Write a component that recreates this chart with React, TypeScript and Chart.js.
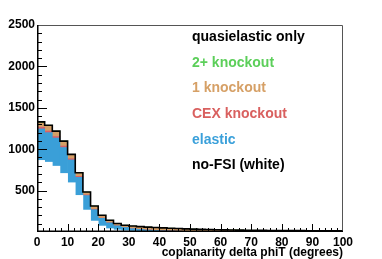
import React, { useEffect, useRef } from "react";
import { Chart, registerables } from "chart.js";

Chart.register(...registerables);

// Bin width 2.5 degrees, 40 bins from 0 to 100
const binEdges: number[] = [0, 2.5, 5, 7.5, 10, 12.5, 15, 17.5, 20, 22.5, 25, 27.5, 30, 32.5, 35, 37.5, 40, 42.5, 45, 47.5, 50, 52.5, 55, 57.5, 60, 62.5, 65, 67.5, 70, 72.5, 75, 77.5, 80, 82.5, 85, 87.5, 90, 92.5, 95, 97.5, 100];

const noFSI = [865, 843, 795, 707, 595, 442, 265, 132, 72, 40, 25, 15, 10, 7, 5, 4, 3, 2, 2, 1, 1, 1, 1, 1, 0, 0, 0, 0, 0, 0, 0, 0, 0, 0, 0, 0, 0, 0, 0, 0];
const elastic = [380, 357, 340, 313, 275, 218, 175, 138, 93, 70, 50, 40, 30, 24, 19, 15, 12, 10, 8, 6, 5, 4, 3, 3, 2, 2, 2, 1, 1, 1, 1, 1, 1, 1, 1, 1, 1, 1, 1, 1];
const cexKnockout = [20, 20, 19, 18, 15, 12, 9, 6, 4, 3, 2, 2, 2, 2, 2, 2, 2, 2, 1, 1, 1, 1, 1, 1, 1, 1, 1, 1, 1, 1, 1, 1, 1, 1, 1, 1, 1, 1, 1, 1];
const oneKnockout = [51, 56, 51, 48, 41, 35, 27, 33, 29, 26, 22, 22, 27, 29, 30, 31, 30, 29, 28, 27, 25, 23, 22, 21, 21, 20, 18, 17, 17, 16, 15, 14, 14, 13, 13, 12, 12, 12, 12, 12];
const twoKnockout = [14, 14, 13, 12, 11, 9, 7, 5, 4, 3, 3, 3, 3, 3, 3, 3, 3, 3, 3, 3, 3, 3, 3, 2, 2, 2, 2, 2, 2, 2, 2, 2, 2, 2, 2, 2, 2, 2, 1, 1];

const legendLabels = ["quasielastic only", "2+ knockout", "1 knockout", "CEX knockout", "elastic", "no-FSI (white)"];
const legendColors = ["#000000", "#5ccf5a", "#d6a066", "#d9605f", "#3aa0da", "#000000"];

const xTitle = "coplanarity delta phiT (degrees)";
const FONT = "'Liberation Sans', Arial, Helvetica, sans-serif";

export default function App() {
  const ref = useRef<HTMLCanvasElement | null>(null);

  useEffect(() => {
    const canvas = ref.current;
    if (!canvas) return;
    const nb = noFSI.length;
    const centers = binEdges.slice(0, nb).map((e, i) => (e + binEdges[i + 1]) / 2);
    const toPts = (arr: number[]) => arr.map((v, i) => ({ x: centers[i], y: v }));
    const totals = noFSI.map((_, i) => noFSI[i] + elastic[i] + cexKnockout[i] + oneKnockout[i] + twoKnockout[i]);
    const outline = binEdges.map((e, i) => ({ x: e, y: totals[Math.min(i, nb - 1)] }));

    const framePlugin = {
      id: "frame",
      afterDatasetsDraw(chart: any) {
        const { ctx, chartArea: a, scales } = chart;
        const x = scales.x;
        const y = scales.y;
        ctx.save();
        ctx.strokeStyle = "#000";
        ctx.lineWidth = 1;
        for (let v = 100; v < 2500; v += 100) {
          const py = Math.round(y.getPixelForValue(v)) + 0.5;
          const len = v % 500 === 0 ? 10 : 5;
          ctx.beginPath();
          ctx.moveTo(a.left, py);
          ctx.lineTo(a.left + len, py);
          ctx.stroke();
        }
        for (let v = 2; v < 100; v += 2) {
          const px = Math.round(x.getPixelForValue(v)) + 0.5;
          const len = v % 10 === 0 ? 8 : 4;
          ctx.beginPath();
          ctx.moveTo(px, a.bottom);
          ctx.lineTo(px, a.bottom - len);
          ctx.stroke();
        }
        ctx.strokeStyle = "#555";
        ctx.beginPath();
        ctx.moveTo(a.left, a.top + 0.5);
        ctx.lineTo(a.right - 0.5, a.top + 0.5);
        ctx.lineTo(a.right - 0.5, a.bottom);
        ctx.stroke();
        ctx.strokeStyle = "#000";
        ctx.lineWidth = 1.5;
        ctx.beginPath();
        ctx.moveTo(a.left + 0.75, a.top);
        ctx.lineTo(a.left + 0.75, a.bottom - 0.75);
        ctx.lineTo(a.right, a.bottom - 0.75);
        ctx.stroke();

        ctx.font = `bold 14px ${FONT}`;
        ctx.textAlign = "left";
        ctx.textBaseline = "middle";
        legendLabels.forEach((t, i) => {
          ctx.fillStyle = legendColors[i];
          ctx.fillText(t, 192, 37 + i * 25.7);
        });
        ctx.restore();
      },
    };

    const chart = new Chart(canvas, {
      type: "bar",
      data: {
        datasets: [
          { label: "no-FSI", data: toPts(noFSI), backgroundColor: "#ffffff", stack: "h", order: 2 },
          { label: "elastic", data: toPts(elastic), backgroundColor: "#3a9fd8", stack: "h", order: 2 },
          { label: "CEX knockout", data: toPts(cexKnockout), backgroundColor: "#d8616a", stack: "h", order: 2 },
          { label: "1 knockout", data: toPts(oneKnockout), backgroundColor: "#d49f66", stack: "h", order: 2 },
          { label: "2+ knockout", data: toPts(twoKnockout), backgroundColor: "#5fbf4f", stack: "h", order: 2 },
          {
            type: "line",
            label: "quasielastic only",
            data: outline,
            borderColor: "#000",
            borderWidth: 1.6,
            pointRadius: 0,
            fill: false,
            stepped: "before",
            stack: "outline",
            order: 1,
          } as any,
        ],
      },
      options: {
        animation: false,
        responsive: false,
        devicePixelRatio: 1,
        layout: { padding: { top: 25, right: 39, left: 0, bottom: 0 } },
        datasets: { bar: { barPercentage: 1, categoryPercentage: 1, borderWidth: 0 } },
        plugins: { legend: { display: false }, tooltip: { enabled: false }, title: { display: false } },
        scales: {
          x: {
            type: "linear",
            stacked: true,
            offset: false,
            min: 0,
            max: 100,
            grid: { display: false, drawTicks: false, offset: false },
            border: { display: false },
            ticks: { stepSize: 10, padding: 3, color: "#000", font: { family: FONT, size: 12, weight: "bold" }, maxRotation: 0, autoSkip: false },
            title: { display: true, text: xTitle, align: "end", color: "#000", padding: { top: 0, bottom: 0 }, font: { family: FONT, size: 12, weight: "bold", lineHeight: 1.1 } },
            afterFit: (s: any) => { s.height = 27; },
          },
          y: {
            stacked: true,
            min: 0,
            max: 2500,
            grid: { display: false, drawTicks: false },
            border: { display: false },
            ticks: { stepSize: 500, padding: 2, color: "#000", font: { family: FONT, size: 12, weight: "bold" }, callback: (v: any) => (v === 0 ? "" : String(v)) },
            afterFit: (s: any) => { s.width = 37; },
          },
        },
      },
      plugins: [framePlugin],
    } as any);
    return () => chart.destroy();
  }, []);

  return (
    <div style={{ position: "absolute", left: 0, top: 0, width: 382, height: 259, background: "#fff" }}>
      <canvas ref={ref} width={382} height={259} />
    </div>
  );
}
